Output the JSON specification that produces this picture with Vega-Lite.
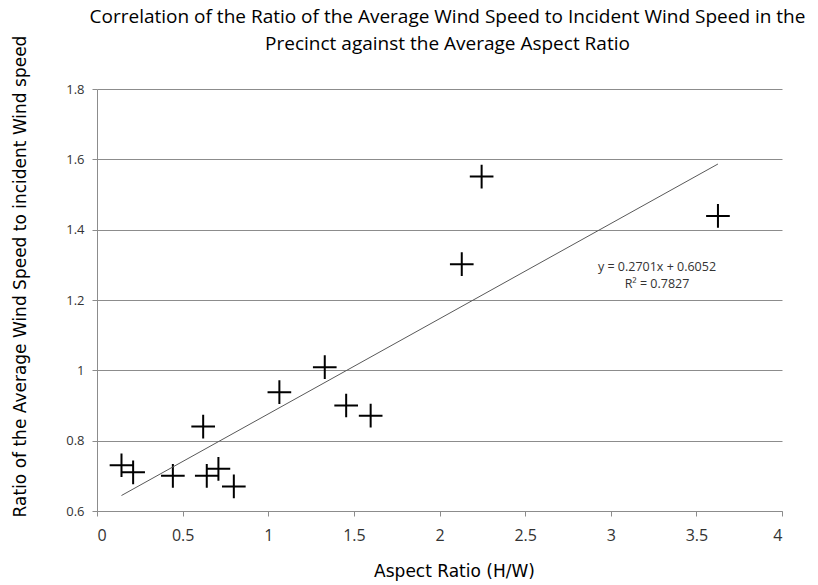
{
  "$schema": "https://vega.github.io/schema/vega-lite/v6.json",
  "width": 685,
  "height": 422,
  "autosize": {"type": "none"},
  "padding": {"left": 97, "top": 89, "right": 36, "bottom": 74},
  "background": "white",
  "title": {
    "text": ["Correlation of the Ratio of the Average Wind Speed to Incident Wind Speed in the", "Precinct against the Average Aspect Ratio"],
    "font": "Open Sans",
    "fontSize": 19,
    "fontWeight": "normal",
    "color": "#000000",
    "lineHeight": 27,
    "anchor": "middle",
    "frame": "group",
    "offset": -19,
    "dx": 8
  },
  "config": {
    "view": {"stroke": null},
    "axis": {
      "domainColor": "#8c8c8c",
      "tickColor": "#8c8c8c",
      "gridColor": "#8c8c8c",
      "labelColor": "#333333",
      "titleColor": "#000000",
      "labelFont": "Open Sans",
      "titleFont": "DejaVu Sans",
      "titleFontWeight": "normal"
    }
  },
  "data": {
    "values": [
      {"aspect": 0.143, "ratio": 0.73},
      {"aspect": 0.211, "ratio": 0.71},
      {"aspect": 0.443, "ratio": 0.70},
      {"aspect": 0.62, "ratio": 0.84},
      {"aspect": 0.641, "ratio": 0.70},
      {"aspect": 0.709, "ratio": 0.72},
      {"aspect": 0.799, "ratio": 0.67},
      {"aspect": 1.065, "ratio": 0.938},
      {"aspect": 1.33, "ratio": 1.009},
      {"aspect": 1.455, "ratio": 0.90},
      {"aspect": 1.598, "ratio": 0.871},
      {"aspect": 2.13, "ratio": 1.302},
      {"aspect": 2.246, "ratio": 1.551},
      {"aspect": 3.626, "ratio": 1.439}
    ]
  },
  "layer": [
    {
      "mark": {"type": "point", "shape": "M-1,0H1M0,-1V1", "filled": false, "stroke": "#000000", "strokeWidth": 2, "size": 560, "opacity": 1},
      "encoding": {
        "x": {
          "field": "aspect", "type": "quantitative",
          "scale": {"domain": [0, 4], "nice": false, "zero": false},
          "axis": {
            "title": "Aspect Ratio (H/W)",
            "values": [0, 0.5, 1, 1.5, 2, 2.5, 3, 3.5, 4],
            "format": "~g",
            "grid": false,
            "tickSize": 5,
            "labelFontSize": 16,
            "labelPadding": 11,
            "titleFontSize": 17,
            "titlePadding": 20,
            "titleX": 357,
            "titleAlign": "center"
          }
        },
        "y": {
          "field": "ratio", "type": "quantitative",
          "scale": {"domain": [0.6, 1.8], "nice": false, "zero": false},
          "axis": {
            "title": "Ratio of the Average Wind Speed to incident Wind speed",
            "values": [0.6, 0.8, 1, 1.2, 1.4, 1.6, 1.8],
            "format": "~g",
            "grid": true,
            "tickSize": 5,
            "labelFontSize": 13,
            "labelPadding": 8,
            "titleFontSize": 17,
            "titleX": -77,
            "titleY": 187,
            "titleBaseline": "middle",
            "titleAlign": "center",
            "titleAngle": -90
          }
        }
      }
    },
    {
      "transform": [{"regression": "ratio", "on": "aspect", "method": "linear"}],
      "mark": {"type": "line", "color": "#595959", "strokeWidth": 1},
      "encoding": {
        "x": {"field": "aspect", "type": "quantitative"},
        "y": {"field": "ratio", "type": "quantitative"}
      }
    },
    {
      "data": {"values": [{}]},
      "mark": {"type": "text", "text": ["y = 0.2701x + 0.6052", "R² = 0.7827"], "font": "Open Sans", "fontSize": 12.5, "lineHeight": 17, "baseline": "top", "align": "center", "color": "#333333"},
      "encoding": {
        "x": {"datum": 3.27, "type": "quantitative"},
        "y": {"datum": 1.31, "type": "quantitative"}
      }
    }
  ]
}
